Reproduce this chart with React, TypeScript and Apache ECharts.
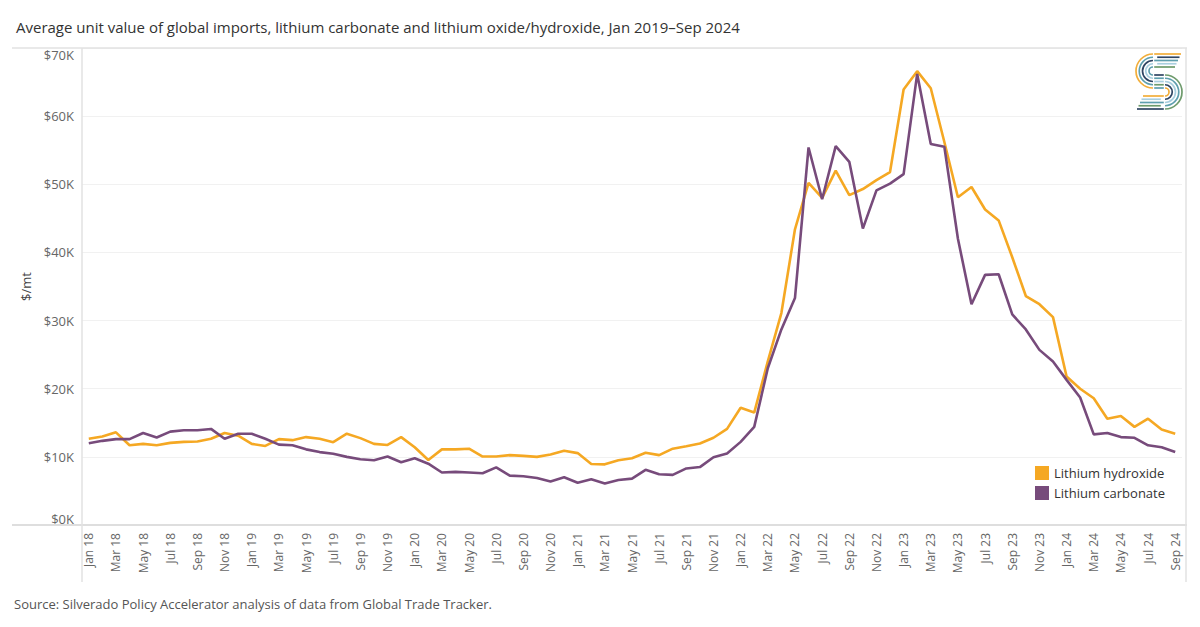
import React, { useEffect, useRef } from "react";
import * as echarts from "echarts";

const TITLE =
  "Average unit value of global imports, lithium carbonate and lithium oxide/hydroxide, Jan 2019\u2013Sep 2024";
const SOURCE = "Source: Silverado Policy Accelerator analysis of data from Global Trade Tracker.";

const MONTHS = ["Jan", "Feb", "Mar", "Apr", "May", "Jun", "Jul", "Aug", "Sep", "Oct", "Nov", "Dec"];
const YEARS = ["18", "19", "20", "21", "22", "23", "24"];
const categories = YEARS.flatMap((y) => MONTHS.map((m) => `${m} ${y}`)).slice(0, 81);

// $ thousands per metric ton
const hydroxide = [
  12.65, 13.0, 13.6, 11.7, 11.9, 11.7, 12.05, 12.2, 12.25, 12.65, 13.5, 13.1,
  11.9, 11.6, 12.6, 12.45, 12.9, 12.65, 12.15, 13.4, 12.75, 11.9, 11.75, 12.9,
  11.4, 9.55, 11.1, 11.1, 11.2, 10.05, 10.05, 10.25, 10.15, 10.0, 10.35, 10.9,
  10.55, 8.95, 8.9, 9.5, 9.8, 10.6, 10.25, 11.2, 11.55, 11.95, 12.8, 14.1,
  17.2, 16.5, 24.0, 31.1, 43.4, 50.2, 48.0, 52.0, 48.4, 49.3, 50.6, 51.8,
  63.9, 66.6, 64.1, 56.2, 48.1, 49.6, 46.3, 44.7, 39.3, 33.6, 32.4, 30.5,
  21.8, 20.0, 18.6, 15.6, 16.0, 14.4, 15.6, 14.0, 13.4,
];
const carbonate = [
  12.0, 12.35, 12.6, 12.6, 13.5, 12.85, 13.7, 13.9, 13.9, 14.1, 12.65, 13.4,
  13.4, 12.65, 11.8, 11.7, 11.1, 10.7, 10.45, 10.0, 9.65, 9.5, 10.05, 9.2,
  9.8, 9.0, 7.7, 7.8, 7.7, 7.6, 8.45, 7.25, 7.15, 6.9, 6.4, 7.0,
  6.2, 6.7, 6.1, 6.6, 6.8, 8.1, 7.45, 7.35, 8.3, 8.5, 9.95, 10.5,
  12.2, 14.4, 23.0, 28.7, 33.3, 55.4, 47.8, 55.6, 53.3, 43.5, 49.1, 50.1,
  51.5, 66.2, 55.9, 55.5, 42.0, 32.4, 36.7, 36.8, 30.9, 28.7, 25.7, 24.0,
  21.3, 18.7, 13.3, 13.5, 12.9, 12.8, 11.7, 11.4, 10.7,
];

const Y_MIN = 0;
const Y_MAX = 70;
const Y_STEP = 10;

const SERIES_NAMES = ["Lithium hydroxide", "Lithium carbonate"];
const SERIES_COLORS = ["#F5A823", "#774B7B"];

// logo strand colours (inner -> outer of top loop)
const ORANGE = "#F2AE3A";
const NAVY = "#2F4563";
const TEAL = "#5E9FAE";
const LIGHT = "#A9CFDF";
const GREEN = "#6E9B6C";
const LOGO_TOP_LINES = [GREEN, LIGHT, TEAL, NAVY, ORANGE];
const LOGO_TOP_ARCS = [TEAL, LIGHT, NAVY, TEAL, ORANGE];
const LOGO_MID = [NAVY, TEAL, LIGHT, GREEN, TEAL];
const LOGO_BOT_ARCS = [GREEN, TEAL, LIGHT, NAVY, ORANGE];
const LOGO_BOT_LINES = [NAVY, GREEN, TEAL, LIGHT, ORANGE];

function buildLogo() {
  const els: any[] = [];
  const cx1 = 1153;
  const cy1 = 71;
  const cx2 = 1165;
  const total = 21;
  const cy2 = cy1 + total;
  const gap = 1.2;
  for (let k = 0; k < 5; k++) {
    const r = 4 + 3.25 * k;
    const R = total - r;
    const st = (c: string) => ({ stroke: c, lineWidth: 1.7, fill: "none" });
    els.push({
      type: "line",
      shape: { x1: cx1 + gap + (k % 2) * 3, y1: cy1 - r, x2: 1181 - (4 - k) * 1.5, y2: cy1 - r },
      style: st(LOGO_TOP_LINES[k]),
    });
    els.push({
      type: "arc",
      shape: { cx: cx1, cy: cy1, r, startAngle: -Math.PI / 2, endAngle: Math.PI / 2, clockwise: false },
      style: st(LOGO_TOP_ARCS[k]),
    });
    els.push({
      type: "line",
      shape: { x1: cx1 + gap, y1: cy1 + r, x2: cx2 - gap, y2: cy1 + r },
      style: st(LOGO_MID[k]),
    });
    els.push({
      type: "arc",
      shape: { cx: cx2, cy: cy2, r: R, startAngle: -Math.PI / 2, endAngle: Math.PI / 2, clockwise: true },
      style: st(LOGO_BOT_ARCS[k]),
    });
    els.push({
      type: "line",
      shape: { x1: cx2 - gap - (k % 2) * 3, y1: cy2 + R, x2: 1137 + k * 1.5, y2: cy2 + R },
      style: st(LOGO_BOT_LINES[k]),
    });
  }
  return els;
}

export default function App() {
  const ref = useRef<HTMLDivElement>(null);

  useEffect(() => {
    document.body.style.margin = "0";
    if (!ref.current) return;
    const chart = echarts.init(ref.current, undefined, { renderer: "svg" });
    const frame = { stroke: "#E2E2E2", lineWidth: 1.5 };
    const option: any = {
      animation: false,
      backgroundColor: "#ffffff",
      textStyle: { fontFamily: "'Open Sans', sans-serif" },
      title: {
        text: TITLE,
        left: 16,
        top: 19,
        padding: 0,
        textStyle: { fontSize: 15, fontWeight: "normal", color: "#333333", fontFamily: "'Open Sans', sans-serif" },
      },
      grid: { left: 82, top: 48, width: 1100, height: 477 },
      legend: {
        data: SERIES_NAMES,
        orient: "vertical",
        left: 1035,
        top: 466,
        padding: 0,
        itemWidth: 14,
        itemHeight: 14,
        itemGap: 6,
        icon: "rect",
        textStyle: { fontSize: 13, color: "#333333", fontFamily: "'Open Sans', sans-serif" },
      },
      xAxis: {
        type: "category",
        data: categories,
        boundaryGap: true,
        axisLine: { show: false },
        axisTick: { show: false },
        axisLabel: { interval: 1, rotate: 90, fontSize: 12, color: "#666666", margin: 8 },
      },
      yAxis: {
        type: "value",
        min: Y_MIN,
        max: Y_MAX,
        interval: Y_STEP,
        name: "$/mt",
        nameLocation: "middle",
        nameGap: 48,
        nameTextStyle: { fontSize: 13, color: "#444444" },
        axisLine: { show: false },
        axisTick: { show: false },
        axisLabel: {
          formatter: (v: number) => `$${v}K`,
          fontSize: 13,
          color: "#666666",
          margin: 8,
          verticalAlignMinLabel: "bottom",
          verticalAlignMaxLabel: "top",
        },
        splitLine: { lineStyle: { color: "#F1F1F1", width: 1 } },
      },
      series: [
        {
          name: SERIES_NAMES[0],
          type: "line",
          data: hydroxide,
          symbol: "none",
          color: SERIES_COLORS[0],
          lineStyle: { width: 2.6, color: SERIES_COLORS[0] },
        },
        {
          name: SERIES_NAMES[1],
          type: "line",
          data: carbonate,
          symbol: "none",
          color: SERIES_COLORS[1],
          lineStyle: { width: 2.6, color: SERIES_COLORS[1] },
        },
      ],
      graphic: [
        { type: "line", shape: { x1: 12, y1: 48, x2: 1187, y2: 48 }, style: frame, z: 10 },
        { type: "line", shape: { x1: 12, y1: 525, x2: 1187, y2: 525 }, style: { stroke: "#DEDEDE", lineWidth: 2 }, z: 10 },
        { type: "line", shape: { x1: 82, y1: 48, x2: 82, y2: 582 }, style: frame, z: 10 },
        { type: "line", shape: { x1: 1186, y1: 48, x2: 1186, y2: 582 }, style: frame, z: 10 },
        {
          type: "text",
          style: { text: SOURCE, x: 14, y: 604, verticalAlign: "middle", font: "13px 'Open Sans', sans-serif", fill: "#555555" },
        },
        { type: "group", children: buildLogo(), z: 20 },
      ],
    };
    chart.setOption(option);
    return () => chart.dispose();
  }, []);

  return <div ref={ref} style={{ width: 1200, height: 627 }} />;
}
